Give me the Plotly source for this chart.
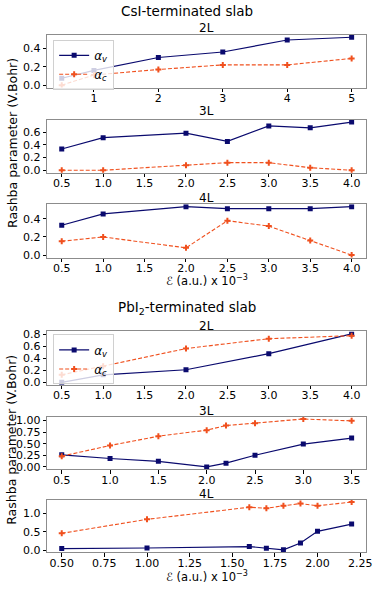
import plotly.graph_objects as go

# ---------------- data ----------------
csi2_x = [0.5, 1, 2, 3, 4, 5]
csi2_av = [0.075, 0.16, 0.30, 0.36, 0.49, 0.52]
csi2_ac = [0.0, 0.11, 0.17, 0.22, 0.22, 0.29]

csi3_x = [0.5, 1.0, 2.0, 2.5, 3.0, 3.5, 4.0]
csi3_av = [0.335, 0.515, 0.585, 0.455, 0.70, 0.67, 0.76]
csi3_ac = [0.0, 0.0, 0.08, 0.12, 0.12, 0.04, 0.0]

csi4_x = [0.5, 1.0, 2.0, 2.5, 3.0, 3.5, 4.0]
csi4_av = [0.33, 0.455, 0.535, 0.513, 0.513, 0.513, 0.535]
csi4_ac = [0.153, 0.20, 0.08, 0.38, 0.32, 0.16, 0.0]

pb2_x = [0.5, 1.0, 2.0, 3.0, 4.0]
pb2_av = [0.0, 0.125, 0.21, 0.48, 0.81]
pb2_ac = [0.125, 0.27, 0.565, 0.73, 0.78]

pb3_x = [0.5, 1.0, 1.5, 2.0, 2.2, 2.5, 3.0, 3.5]
pb3_av = [0.26, 0.18, 0.12, 0.0, 0.08, 0.25, 0.49, 0.62]
pb3_ac = [0.23, 0.46, 0.66, 0.79, 0.89, 0.94, 1.03, 0.99]

pb4_x = [0.5, 1.0, 1.6, 1.7, 1.8, 1.9, 2.0, 2.2]
pb4_av = [0.045, 0.06, 0.10, 0.055, 0.01, 0.195, 0.515, 0.71]
pb4_ac = [0.46, 0.84, 1.17, 1.14, 1.21, 1.27, 1.21, 1.31]

panel_titles = ["2L", "3L", "4L", "2L", "3L", "4L"]
group_titles = ["CsI-terminated slab", "PbI<sub>2</sub>-terminated slab"]
xlabel = "ℰ (a.u.) x 10<sup>−3</sup>"
ylabel = "Rashba parameter (V.Bohr)"

panels = [
    (csi2_x, csi2_av, csi2_ac, 1.0, ".0f", 0.2, ".1f"),
    (csi3_x, csi3_av, csi3_ac, 0.5, ".1f", 0.2, ".1f"),
    (csi4_x, csi4_av, csi4_ac, 0.5, ".1f", 0.2, ".1f"),
    (pb2_x, pb2_av, pb2_ac, 0.5, ".1f", 0.2, ".1f"),
    (pb3_x, pb3_av, pb3_ac, 0.5, ".1f", 0.25, ".2f"),
    (pb4_x, pb4_av, pb4_ac, 0.25, ".2f", 0.5, ".1f"),
]

# ---------------- layout geometry ----------------
W, H = 380, 590
FONT = "DejaVu Sans"
px_x = (48, 372)
px_y = [(32.3, 85.7), (118.3, 172), (204, 258), (333, 387), (419.3, 472.7), (503.5, 556.8)]
title_y = [25.7, 109.3, 197.3, 327, 414, 498]

def fy(p):
    return 1 - p / H

C_V = "#0a0a6e"
C_C = "#f0501e"

fig = go.Figure()
layout = dict(
    width=W, height=H,
    margin=dict(l=0, r=0, t=0, b=0),
    paper_bgcolor="white", plot_bgcolor="white",
    font=dict(family=FONT, size=11, color="black"),
    showlegend=True,
)

annotations = []
for i, (x, av, ac, dx, xf, dy, yf) in enumerate(panels):
    n = i + 1
    xa = "x" if n == 1 else f"x{n}"
    ya = "y" if n == 1 else f"y{n}"
    leg = "legend" if i == 0 else ("legend2" if i == 3 else None)
    fig.add_trace(go.Scatter(
        x=x, y=av, xaxis=xa, yaxis=ya, mode="lines+markers",
        name="<i>α</i><sub><i>v</i></sub>",
        line=dict(color=C_V, width=1.2),
        marker=dict(symbol="square", size=5, color=C_V),
        showlegend=leg is not None, legend=leg or "legend",
    ))
    fig.add_trace(go.Scatter(
        x=x, y=ac, xaxis=xa, yaxis=ya, mode="lines+markers",
        name="<i>α</i><sub><i>c</i></sub>",
        line=dict(color=C_C, width=1.1, dash="4px,2px"),
        marker=dict(symbol="cross", size=5, color=C_C),
        showlegend=leg is not None, legend=leg or "legend",
    ))
    xmin, xmax = min(x), max(x)
    allv = av + ac
    ymin, ymax = min(allv), max(allv)
    mx = 0.05 * (xmax - xmin)
    my = 0.05 * (ymax - ymin)
    axcommon = dict(showline=True, mirror=True, linecolor="#8c8c8c", linewidth=1,
                    ticks="outside", ticklen=3.5, tickcolor="black", tickwidth=1,
                    showgrid=False, zeroline=False,
                    tickfont=dict(family=FONT, size=11, color="black"))
    layout["xaxis" + ("" if n == 1 else str(n))] = dict(
        axcommon, domain=[px_x[0] / W, px_x[1] / W], anchor=ya,
        range=[xmin - mx, xmax + mx], tick0=0, dtick=dx, tickformat=xf,
        ticklabelstandoff=-3)
    layout["yaxis" + ("" if n == 1 else str(n))] = dict(
        axcommon, domain=[fy(px_y[i][1]), fy(px_y[i][0])], anchor=xa,
        range=[ymin - my, ymax + my], tick0=0, dtick=dy, tickformat=yf)
    annotations.append(dict(text=panel_titles[i], x=(px_x[0] + px_x[1]) / 2 / W,
                            y=fy(title_y[i]), xref="paper", yref="paper",
                            xanchor="center", yanchor="middle", showarrow=False,
                            font=dict(family=FONT, size=12)))

for t, yy in zip(group_titles, [8, 309]):
    annotations.append(dict(text=t, x=0.5, y=fy(yy), xref="paper", yref="paper",
                            xanchor="center", yanchor="middle", showarrow=False,
                            font=dict(family=FONT, size=13.5)))
for yy in [290, 590]:
    annotations.append(dict(text=xlabel, x=(px_x[0] + px_x[1]) / 2 / W, y=fy(yy),
                            xref="paper", yref="paper", xanchor="center", yanchor="bottom",
                            showarrow=False, borderpad=0,
                            font=dict(family=FONT, size=11.5)))
for yy in [142, 443]:
    annotations.append(dict(text=ylabel, x=12 / W, y=fy(yy), xref="paper", yref="paper",
                            xanchor="center", yanchor="middle", textangle=-90,
                            showarrow=False, font=dict(family=FONT, size=12.5)))

legstyle = dict(bgcolor="rgba(255,255,255,0.8)", bordercolor="#d0d0d0", borderwidth=1,
                font=dict(family=FONT, size=12), xanchor="left", yanchor="top",
                tracegroupgap=0, itemwidth=30)
layout["legend"] = dict(legstyle, x=54 / W, y=fy(37.3))
layout["legend2"] = dict(legstyle, x=54 / W, y=fy(336))
layout["annotations"] = annotations

fig.update_layout(**layout)
fig.write_html("out.html", config={"displayModeBar": False},
               post_script="document.body.style.margin='0';document.body.style.overflow='hidden';")
